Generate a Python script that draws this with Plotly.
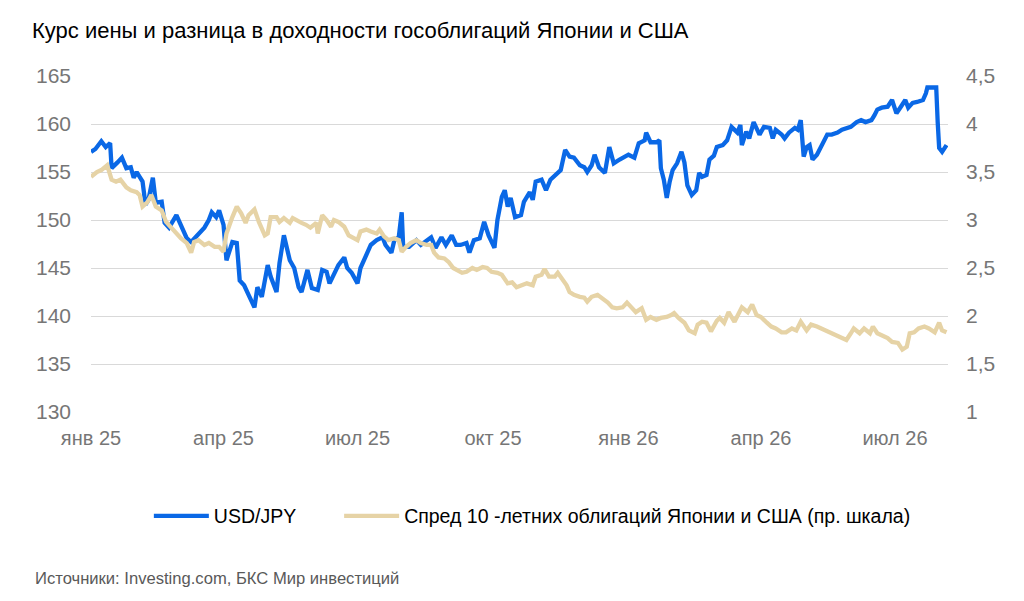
import pandas as pd
import plotly.graph_objects as go

# дни от 2025-01-01 и значения
start = pd.Timestamp("2025-01-01")

usd_days = [0, 3, 7, 10, 13, 14, 18, 21, 24, 27, 29, 31, 35, 37, 39, 42, 44, 48, 50, 53,
            58, 61, 65, 68, 72, 77, 80, 82, 85, 87, 90, 92, 96, 99, 101, 104, 107, 111, 113, 116,
            120, 122, 126, 128, 131, 135, 138, 141, 143, 147, 150, 154, 157, 160, 162, 166, 168, 172, 174, 177,
            181, 183, 187, 190, 194, 198, 200, 204, 206, 209, 211, 212, 216, 221, 224, 228, 231, 234, 238, 241,
            245, 248, 251, 255, 257, 260, 264, 267, 270, 274, 276, 279, 281, 283, 285, 288, 292, 294, 298, 300,
            302, 306, 309, 312, 316, 319, 322, 325, 328, 332, 335, 337, 340, 342, 345, 349, 352, 355, 359, 362,
            365, 369, 372, 376, 377, 380, 384, 386, 387, 389, 391, 393, 395, 398, 401, 403, 405, 408, 411, 413,
            415, 418, 420, 423, 425, 429, 432, 435, 439, 441, 442, 445, 447, 450, 454, 457, 461, 463, 465, 469,
            471, 474, 478, 480, 482, 484, 486, 488, 490, 493, 497, 500, 503, 507, 510, 513, 516, 520, 523, 526,
            530, 532, 534, 537, 541, 544, 547, 550, 553, 555, 558, 561, 565, 567, 568, 571, 574, 575, 576, 578,
            581]
usd_jpy = [157.1, 157.4, 158.2, 157.6, 158.0, 155.4, 156.0, 156.5, 155.4, 155.5, 154.4, 155.0, 154.0, 151.6, 152.1, 154.4, 151.8, 151.9, 149.7, 149.2,
           150.5, 149.5, 148.1, 147.7, 148.4, 149.2, 150.0, 150.8, 150.3, 151.0, 149.5, 145.8, 147.7, 147.6, 143.7, 143.2, 142.2, 140.9, 143.0, 142.0,
           145.3, 144.1, 142.5, 145.5, 148.4, 145.8, 145.0, 143.0, 142.5, 144.8, 142.9, 142.7, 144.8, 144.6, 143.4, 144.8, 145.3, 146.1, 145.0, 144.5,
           143.4, 145.0, 146.4, 147.4, 147.9, 148.2, 147.4, 146.6, 147.9, 148.2, 150.8, 147.2, 147.2, 147.9, 147.4, 147.9, 148.2, 147.1, 148.2, 147.4,
           148.4, 147.4, 147.4, 147.6, 146.6, 147.9, 148.1, 149.8, 148.4, 147.1, 150.0, 152.4, 153.1, 151.4, 152.3, 150.3, 150.5, 151.9, 152.9, 152.1,
           154.0, 154.2, 153.1, 154.2, 154.7, 155.2, 157.3, 156.6, 156.5, 155.7, 155.5, 155.0, 155.7, 156.8, 155.5, 154.9, 157.6, 155.9, 156.3, 156.6,
           156.8, 156.5, 158.0, 158.3, 159.1, 158.1, 158.1, 158.3, 155.4, 154.2, 152.3, 154.0, 155.2, 155.9, 157.1, 156.0, 153.6, 152.6, 153.1, 154.9,
           154.5, 154.7, 156.3, 156.7, 157.6, 157.8, 158.3, 159.7, 159.1, 159.9, 157.8, 159.2, 158.5, 160.2, 158.9, 159.7, 159.6, 158.5, 159.4, 158.9,
           158.5, 159.1, 159.6, 159.4, 160.4, 156.6, 157.6, 157.8, 156.3, 156.8, 158.1, 158.9, 158.9, 159.1, 159.4, 159.6, 159.7, 160.2, 160.4, 160.2,
           160.4, 160.9, 161.5, 161.7, 161.8, 162.5, 161.1, 161.8, 162.5, 161.7, 162.2, 162.3, 162.5, 163.2, 163.8, 163.8, 163.8, 160.2, 157.5, 157.1,
           157.8]

spread_days = [0, 4, 7, 11, 14, 17, 20, 24, 27, 31, 33, 35, 38, 41, 44, 48, 51, 54, 58, 61,
               65, 68, 70, 73, 77, 80, 84, 87, 90, 92, 96, 99, 102, 105, 107, 111, 114, 118, 120, 122,
               126, 128, 131, 135, 137, 139, 143, 146, 149, 153, 154, 157, 160, 163, 165, 168, 172, 175, 179, 181,
               183, 187, 190, 194, 196, 199, 202, 206, 209, 211, 214, 217, 221, 224, 228, 231, 233, 236, 240, 243,
               246, 249, 252, 255, 259, 262, 266, 269, 272, 276, 279, 283, 286, 289, 293, 296, 300, 302, 306, 308,
               311, 315, 317, 320, 323, 325, 328, 332, 335, 337, 340, 344, 347, 351, 354, 357, 361, 364, 367, 370,
               374, 377, 380, 384, 387, 391, 394, 396, 399, 403, 406, 410, 412, 415, 418, 421, 425, 427, 430, 433,
               437, 440, 442, 446, 449, 452, 455, 459, 462, 465, 469, 472, 476, 479, 482, 486, 489, 493, 496, 499,
               503, 506, 510, 513, 516, 518, 522, 525, 529, 531, 534, 537, 541, 544, 548, 551, 554, 556, 559, 562,
               566, 569, 573, 576, 578, 581]
jp_us_spread = [3.45, 3.50, 3.52, 3.57, 3.42, 3.40, 3.42, 3.34, 3.31, 3.29, 3.26, 3.14, 3.18, 3.26, 3.14, 3.10, 2.98, 2.93, 2.86, 2.81,
                2.76, 2.66, 2.77, 2.79, 2.74, 2.76, 2.72, 2.72, 2.67, 2.86, 3.03, 3.14, 3.07, 2.97, 3.05, 3.11, 2.98, 2.84, 2.86, 3.03,
                3.03, 2.98, 3.02, 2.97, 3.02, 3.00, 2.97, 2.95, 2.92, 2.97, 2.86, 3.05, 3.00, 2.93, 3.00, 2.98, 2.93, 2.84, 2.81, 2.79,
                2.88, 2.90, 2.88, 2.86, 2.90, 2.83, 2.79, 2.81, 2.79, 2.67, 2.72, 2.76, 2.79, 2.76, 2.74, 2.74, 2.66, 2.61, 2.60, 2.56,
                2.50, 2.48, 2.45, 2.46, 2.50, 2.48, 2.51, 2.50, 2.46, 2.45, 2.43, 2.34, 2.35, 2.30, 2.32, 2.34, 2.32, 2.41, 2.43, 2.49,
                2.41, 2.41, 2.45, 2.38, 2.32, 2.25, 2.22, 2.20, 2.19, 2.15, 2.20, 2.22, 2.19, 2.14, 2.09, 2.08, 2.09, 2.14, 2.09, 2.04,
                2.08, 1.96, 1.99, 1.96, 1.98, 1.99, 2.01, 2.03, 1.98, 1.93, 1.85, 1.82, 1.91, 1.94, 1.93, 1.84, 1.95, 1.98, 1.93, 2.04,
                1.94, 2.03, 2.09, 2.04, 2.12, 2.01, 1.99, 1.93, 1.89, 1.87, 1.83, 1.83, 1.87, 1.85, 1.94, 1.85, 1.91, 1.89, 1.87, 1.85,
                1.82, 1.80, 1.78, 1.75, 1.82, 1.87, 1.82, 1.87, 1.82, 1.89, 1.82, 1.80, 1.77, 1.73, 1.72, 1.65, 1.68, 1.82, 1.83, 1.87,
                1.89, 1.87, 1.83, 1.93, 1.85, 1.83]

tick_dates = ["2025-01-01", "2025-04-01", "2025-07-01", "2025-10-01", "2026-01-01", "2026-04-01", "2026-07-01"]
tick_text = ["янв 25", "апр 25", "июл 25", "окт 25", "янв 26", "апр 26", "июл 26"]

usd_dates = start + pd.to_timedelta(usd_days, unit="D")
spread_dates = start + pd.to_timedelta(spread_days, unit="D")

FONT = "Arial, Liberation Sans, sans-serif"

fig = go.Figure()
fig.add_trace(go.Scatter(
    x=spread_dates, y=jp_us_spread, yaxis="y2",
    name="Спред 10 -летних облигаций Японии и США (пр. шкала)",
    mode="lines", line=dict(color="#E6D3A6", width=4.3), legendrank=2,
))
fig.add_trace(go.Scatter(
    x=usd_dates, y=usd_jpy,
    name="USD/JPY\u00a0\u00a0\u00a0\u00a0\u00a0\u00a0\u00a0",
    mode="lines", line=dict(color="#0A68E6", width=4.3), legendrank=1,
))

fig.update_layout(
    width=1024, height=601,
    margin=dict(l=91, r=76, t=76, b=189),
    paper_bgcolor="white", plot_bgcolor="white",
    separators=", ",
    font=dict(family=FONT, color="#000000"),
    title=dict(text="Курс иены и разница в доходности гособлигаций Японии и США",
               x=32 / 1024, xanchor="left", y=1 - 30 / 601, yanchor="middle",
               font=dict(size=22, color="#000000")),
    xaxis=dict(type="date", range=["2025-01-01", "2026-08-06"],
               tickvals=tick_dates, ticktext=tick_text,
               showgrid=False, zeroline=False, showline=False, ticks="",
               ticklabelstandoff=12, automargin=False,
               tickfont=dict(size=20, color="#767676")),
    yaxis=dict(range=[130, 165], dtick=5, showgrid=True, gridcolor="#D9D9D9", gridwidth=1,
               zeroline=False, showline=False, ticks="", ticklabelstandoff=19, automargin=False,
               tickfont=dict(size=21, color="#767676")),
    yaxis2=dict(range=[1, 4.5], dtick=0.5, overlaying="y", side="right",
                showgrid=False, zeroline=False, showline=False, ticks="", ticklabelstandoff=17,
                automargin=False, tickfont=dict(size=21, color="#767676")),
    legend=dict(orientation="h", x=0.515, xanchor="center", y=-0.31, yanchor="middle",
                font=dict(size=19.5, color="#000000"), traceorder="normal", itemwidth=55),
    showlegend=True,
    annotations=[dict(text="Источники: Investing.com, БКС Мир инвестиций",
                      xref="paper", yref="paper", x=(33 - 91) / 857, y=(412 - 578) / 336,
                      xanchor="left", yanchor="middle", showarrow=False,
                      font=dict(size=16.6, color="#595959"))],
)

fig.write_html("out.html", config={"displayModeBar": False},
               post_script="document.body.style.margin='0';")
